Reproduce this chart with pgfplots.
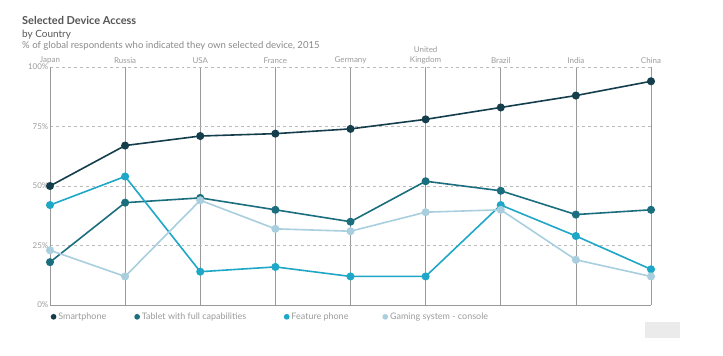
\documentclass[border=0pt]{standalone}
\usepackage{pgfplots}
\pgfplotsset{compat=1.18}
\usepackage{fontspec}
\setmainfont{Lato}
\definecolor{cSmart}{HTML}{143E4B}
\definecolor{cTab}{HTML}{1A6E7D}
\definecolor{cFeat}{HTML}{1FA7C7}
\definecolor{cGame}{HTML}{A9CFDF}
\definecolor{cGridV}{HTML}{9A9A9A}
\definecolor{cGridH}{HTML}{BBBBBB}
\definecolor{cTitle}{HTML}{555555}
\definecolor{cSub}{HTML}{8A8A8A}
\definecolor{cLab}{HTML}{9C9C9C}
\pgfplotstableread{
x smart tab feat game
0 50 18 42 23
1 67 43 54 12
2 71 45 14 44
3 72 40 16 32
4 74 35 12 31
5 78 52 12 39
6 83 48 42 40
7 88 38 29 19
8 94 40 15 12
}\devtable
\begin{document}
\begin{tikzpicture}
\path[use as bounding box, fill=white] (0bp,0bp) rectangle (723bp,-356bp);
\fill[black!8] (645bp,-322bp) rectangle (680bp,-338bp);
\node[anchor=base west, inner sep=0, text=cTitle, font=\fontsize{11}{12}\selectfont\bfseries] at (22bp,-24bp) {Selected Device Access};
\node[anchor=base west, inner sep=0, text=cTitle, font=\fontsize{10}{11}\selectfont] at (22bp,-37bp) {by Country};
\node[anchor=base west, inner sep=0, text=cSub, font=\fontsize{9.6}{10}\selectfont] at (22bp,-48bp) {\% of global respondents who indicated they own selected device, 2015};
\begin{axis}[
  at={(50bp,-305bp)}, anchor=south west,
  scale only axis, width=601bp, height=238bp,
  xmin=0, xmax=8, ymin=0, ymax=100,
  axis x line*=top, axis y line*=left,
  x axis line style={draw=none},
  y axis line style={cGridV, -},
  xtick={0,...,8},
  xticklabels={Japan,Russia,USA,France,Germany,{United\\Kingdom},Brazil,India,China},
  xticklabel style={text=cLab, font=\fontsize{8}{10}\selectfont, align=center, inner sep=1pt, yshift=2bp},
  ytick={0,25,50,75,100},
  yticklabel={\pgfmathprintnumber{\tick}\%},
  yticklabel style={text=cLab, font=\fontsize{8}{9}\selectfont, inner sep=1.5pt},
  /pgf/number format/assume math mode=true,
  major tick length=0pt,
  xmajorgrids, ymajorgrids,
  x grid style={cGridV, line width=0.7pt},
  y grid style={cGridH, dashed, line width=0.6pt},
  legend columns=4,
  legend style={at={(-0.004,-0.015)}, anchor=north west, draw=none, fill=none,
    font=\fontsize{9}{10}\selectfont, text=cLab,
    /tikz/every even column/.append style={column sep=0bp}},
  legend cell align=left,
  legend image code/.code={\fill (0.05cm,0) circle (2pt);},
  every axis plot/.append style={line width=1.6pt, mark=*, mark size=3.2pt},
  clip=false,
]
\draw[cGridV, line width=0.7pt] (rel axis cs:0,0) -- (rel axis cs:1,0);
\addplot[color=cSmart] table[x=x, y=smart] {\devtable};
\addplot[color=cTab] table[x=x, y=tab] {\devtable};
\addplot[color=cFeat] table[x=x, y=feat] {\devtable};
\addplot[color=cGame] table[x=x, y=game] {\devtable};
\legend{\makebox[74bp][l]{Smartphone}, \makebox[140bp][l]{Tablet with full capabilities}, \makebox[89bp][l]{Feature phone}, Gaming system - console}
\end{axis}
\end{tikzpicture}
\end{document}
